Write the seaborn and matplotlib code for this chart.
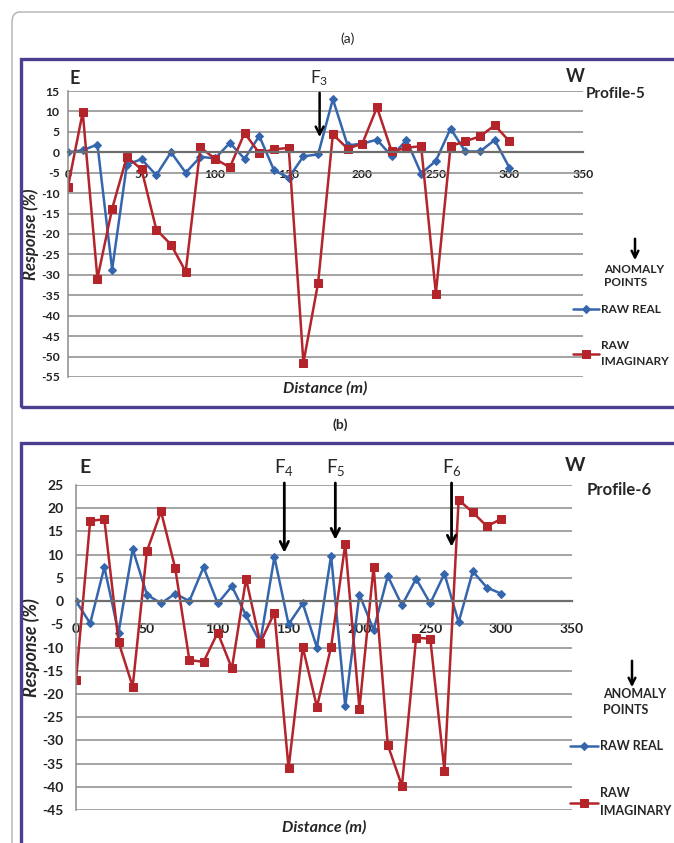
import matplotlib
matplotlib.use("Agg")
import matplotlib.pyplot as plt
import seaborn as sns
from matplotlib.patches import Rectangle, FancyBboxPatch, FancyArrowPatch

sns.set_style("white")
plt.rcParams['font.family'] = ['Lato', 'DejaVu Sans']
plt.rcParams['mathtext.default'] = 'regular'
plt.rcParams['axes.unicode_minus'] = False

# distance along the profile (m)
distance = [0, 10, 20, 30, 40, 50, 60, 70, 80, 90, 100, 110, 120, 130, 140, 150,
            160, 170, 180, 190, 200, 210, 220, 230, 240, 250, 260, 270, 280, 290, 300]

# Profile-5 responses (%)
p5_real = [0, 0.5, 1.9, -28.7, -3, -1.7, -5.6, 0, -5, -1.1, -1.5, 2.3, -1.6, 4, -4.4, -6.2,
           -1, -0.5, 13, 1.7, 2.1, 3.1, -1, 3, -5.2, -2.1, 5.8, 0.2, 0.2, 3, -3.8]
p5_imag = [-8.4, 9.8, -30.9, -13.8, -1.1, -4.2, -18.9, -22.6, -29.2, 1.2, -1.6, -3.7, 4.7, -0.2, 0.7, 1.1,
           -51.5, -31.9, 4.4, 0.9, 2.1, 11, 0.2, 1.1, 1.5, -34.6, 1.5, 2.7, 3.9, 6.6, 2.7]

# Profile-6 responses (%)
p6_real = [0, -4.8, 7.3, -6.8, 11.2, 1.4, -0.5, 1.6, 0, 7.3, -0.5, 3.2, -3.1, -8.9, 9.5, -5,
           -0.5, -10, 9.8, -22.6, 1.4, -6.2, 5.4, -0.9, 4.8, -0.5, 5.9, -4.6, 6.4, 2.9, 1.6]
p6_imag = [-17, 17.3, 17.6, -8.8, -18.4, 10.7, 19.3, 7.1, -12.7, -13.1, -6.8, -14.5, 4.8, -9, -2.5, -36,
           -9.9, -22.8, -9.9, 12.3, -23.2, 7.4, -31, -39.8, -7.9, -8.1, -36.5, 21.8, 19.1, 16.1, 17.7]

xticks = [0, 50, 100, 150, 200, 250, 300, 350]

BLUE = '#3566ad'
RED = '#b3242b'
FRAME = '#4b4090'

W, H = 674, 843
fig = plt.figure(figsize=(6.74, 8.43), dpi=100)


def fx(x):
    return x / W


def fy(y):
    return 1 - y / H


# outer page border and the two panel frames
fig.add_artist(FancyBboxPatch((fx(12), fy(900)), 1.2, fy(12) - fy(900),
                              boxstyle="round,pad=0,rounding_size=0.012",
                              transform=fig.transFigure, fill=False,
                              edgecolor='#b0b0b0', lw=1))
fig.add_artist(Rectangle((fx(21), fy(407)), 1.2, fy(59) - fy(407),
                         transform=fig.transFigure, fill=False, edgecolor=FRAME, lw=2.4))
fig.add_artist(Rectangle((fx(21), fy(900)), 1.2, fy(443) - fy(900),
                         transform=fig.transFigure, fill=False, edgecolor=FRAME, lw=2.4))

fig.text(fx(348), fy(39), '(a)', ha='center', va='center', fontsize=10)
fig.text(fx(340), fy(425), '(b)', ha='center', va='center', fontsize=10, fontweight='bold')

ax1 = fig.add_axes([fx(68), fy(377), fx(583) - fx(68), fy(91) - fy(377)])
ax2 = fig.add_axes([fx(76), fy(810), fx(572) - fx(76), fy(485) - fy(810)])


def draw_profile(ax, real, imag, ymin, ymax, tsize, xpad, ypad):
    ax.set_xlim(0, 350)
    ax.set_ylim(ymin, ymax)
    ax.grid(axis='y', color='#8a8a8a', lw=1.1)
    ax.grid(axis='x', visible=False)
    ax.set_axisbelow(True)
    sns.lineplot(x=distance, y=real, ax=ax, color=BLUE, lw=1.8, marker='D', markersize=4.5,
                 markeredgecolor=BLUE, label='RAW REAL', sort=False, errorbar=None)
    sns.lineplot(x=distance, y=imag, ax=ax, color=RED, lw=1.8, marker='s', markersize=6,
                 markeredgecolor=RED, label='RAW\nIMAGINARY', sort=False, errorbar=None)
    ax.set_yticks(list(range(ymin, ymax + 1, 5)))
    ax.set_xticks(xticks)
    ax.spines['top'].set_visible(False)
    ax.spines['right'].set_visible(False)
    ax.spines['bottom'].set_position(('data', 0))
    ax.spines['bottom'].set_color('#6e6e6e')
    ax.spines['bottom'].set_linewidth(1.6)
    ax.spines['left'].set_color('#8a8a8a')
    ax.spines['left'].set_linewidth(1.1)
    ax.tick_params(axis='x', length=0, pad=xpad, labelsize=tsize, colors='#222222')
    ax.tick_params(axis='y', length=0, pad=ypad, labelsize=tsize, colors='#222222')
    for lab in ax.get_xticklabels() + ax.get_yticklabels():
        lab.set_fontweight('bold')
    ax.set_xlabel('Distance (m)', fontsize=11.5, fontweight='bold', fontstyle='italic')
    ax.set_ylabel('Response (%)', fontsize=12, fontweight='bold', fontstyle='italic')


# ---- Profile-5 ----
draw_profile(ax1, p5_real, p5_imag, -55, 15, 8.7, 12, 6)
ax1.xaxis.set_label_coords(0.5, -0.014)
ax1.yaxis.set_label_coords(-0.056, 0.5)
ax1.text(4.8, 18.1, 'E', ha='center', va='center', fontsize=13, fontweight='bold')
ax1.text(344.6, 18.6, 'W', ha='center', va='center', fontsize=13, fontweight='bold')
ax1.text(352, 14.2, 'Profile-5', ha='left', va='center', fontsize=11, fontweight='bold')
ax1.annotate('F$_3$', xy=(171, 3.7), xytext=(171, 18.1), ha='center', va='center',
             fontsize=12.5, annotation_clip=False,
             arrowprops=dict(arrowstyle='->', lw=1.8, color='black', shrinkA=1, shrinkB=0,
                             mutation_scale=14))
leg1 = ax1.legend(loc='upper left', bbox_to_anchor=(fx(573), fy(304)),
                  bbox_transform=fig.transFigure, frameon=False,
                  prop={'size': 8.5, 'weight': 'bold'}, handlelength=2.2,
                  handletextpad=0.2, labelspacing=2.1, borderpad=0, borderaxespad=0)
leg1.get_texts()[1].set_linespacing(1.6)
fig.text(fx(604), fy(276), 'ANOMALY\nPOINTS', ha='left', va='center', fontsize=8.5,
         fontweight='bold', linespacing=1.25)
fig.add_artist(FancyArrowPatch(posA=(fx(635), fy(236)), posB=(fx(635), fy(263)),
                               transform=fig.transFigure, arrowstyle='->', lw=1.8,
                               color='black', mutation_scale=12))

# ---- Profile-6 ----
draw_profile(ax2, p6_real, p6_imag, -45, 25, 10, 16, 9)
ax2.xaxis.set_label_coords(0.5, -0.031)
ax2.yaxis.set_label_coords(-0.072, 0.5)
ax2.yaxis.label.set_fontsize(13)
ax2.text(6.4, 28.7, 'E', ha='center', va='center', fontsize=14, fontweight='bold')
ax2.text(352, 29.3, 'W', ha='center', va='center', fontsize=14, fontweight='bold')
ax2.text(360.6, 23.9, 'Profile-6', ha='left', va='center', fontsize=12, fontweight='bold')
for lab, xpos, tip in [('F$_4$', 147, 10.4), ('F$_5$', 183, 13.2), ('F$_6$', 265, 11.7)]:
    ax2.annotate(lab, xy=(xpos, tip), xytext=(xpos, 28.7), ha='center', va='center',
                 fontsize=13.5, annotation_clip=False,
                 arrowprops=dict(arrowstyle='->', lw=2, color='black', shrinkA=1, shrinkB=0,
                                 mutation_scale=15))
leg2 = ax2.legend(loc='upper left', bbox_to_anchor=(fx(570), fy(740)),
                  bbox_transform=fig.transFigure, frameon=False,
                  prop={'size': 9, 'weight': 'bold'}, handlelength=2.2,
                  handletextpad=0.2, labelspacing=2.8, borderpad=0, borderaxespad=0)
leg2.get_texts()[1].set_linespacing(1.6)
fig.text(fx(603), fy(702), 'ANOMALY\nPOINTS', ha='left', va='center', fontsize=9,
         fontweight='bold', linespacing=1.35)
fig.add_artist(FancyArrowPatch(posA=(fx(632), fy(658)), posB=(fx(632), fy(690)),
                               transform=fig.transFigure, arrowstyle='->', lw=1.8,
                               color='black', mutation_scale=12))

fig.savefig('out.png', dpi=100)
